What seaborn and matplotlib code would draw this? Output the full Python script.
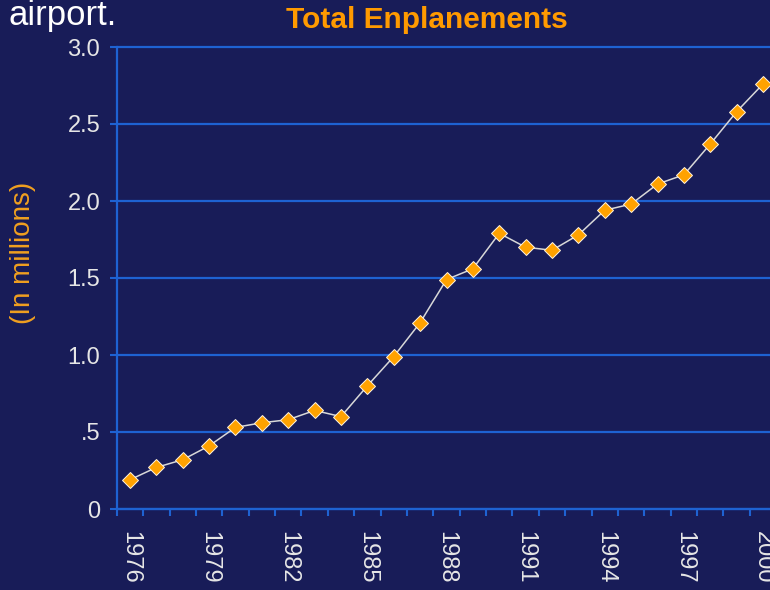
import numpy as np
import pandas as pd
import matplotlib
matplotlib.use("Agg")
import matplotlib.pyplot as plt
import seaborn as sns

# datos (millones de pasajeros embarcados)
anios = list(range(1976, 2001))
embarques = [0.19, 0.27, 0.32, 0.41, 0.53, 0.56, 0.58, 0.64, 0.60, 0.80,
             0.99, 1.21, 1.49, 1.56, 1.79, 1.70, 1.68, 1.78, 1.94, 1.98,
             2.11, 2.17, 2.37, 2.58, 2.76]
y_ticks = [0, 0.5, 1.0, 1.5, 2.0, 2.5, 3.0]
y_labels = ["0", ".5", "1.0", "1.5", "2.0", "2.5", "3.0"]
x_label_years = anios[::3]

fondo = "#181C58"
azul = "#1E62D2"
naranja = "#FF9A00"

sns.set_theme(style="dark", rc={"figure.facecolor": fondo, "axes.facecolor": fondo})
plt.rcParams["font.family"] = ["Liberation Sans", "DejaVu Sans"]

datos = pd.DataFrame({"Anio": anios, "Embarques": embarques})

fig = plt.figure(figsize=(7.7, 5.9), dpi=100)
ax = fig.add_axes([116.8 / 770, 1 - 509 / 590, 659.4 / 770, 462 / 590])

sns.lineplot(data=datos, x="Anio", y="Embarques", ax=ax, color="#D8D8D8",
             linewidth=1.1, marker="D", markersize=8.6,
             markerfacecolor="#FFA200", markeredgecolor="#FFF4E0",
             markeredgewidth=0.7, zorder=3)

ax.set_xlim(1975.5, 2000.5)
ax.set_ylim(0, 3.0)

# ejes
for lado in ["top", "right"]:
    ax.spines[lado].set_visible(False)
for lado in ["left", "bottom"]:
    ax.spines[lado].set_visible(True)
    ax.spines[lado].set_color(azul)
    ax.spines[lado].set_linewidth(1.6)

ax.set_yticks(y_ticks)
ax.set_yticklabels(y_labels)
ax.tick_params(axis="y", colors=azul, length=5, width=1.5, pad=7,
               labelcolor="#E6E6E6", labelsize=17, left=True)
ax.grid(axis="y", color=azul, linewidth=1.6)
ax.grid(axis="x", visible=False)
for linea in ax.get_ygridlines():
    linea.set_clip_on(False)

# marcas en los limites de cada categoria, etiquetas cada 3 anios
ax.set_xticks(np.arange(1975.5, 2001, 1.0))
ax.set_xticklabels([])
ax.tick_params(axis="x", which="major", colors=azul, length=5, width=1.5,
               bottom=True)
ax.set_xticks(x_label_years, [str(a) for a in x_label_years], minor=True)
ax.tick_params(axis="x", which="minor", length=0, pad=16, labelsize=17,
               labelcolor="#E6E6E6", labelrotation=-90)
for t in ax.get_xticklabels(minor=True):
    t.set_va("top")
    t.set_ha("center")

ax.set_xlabel("")
ax.set_ylabel("")

fig.text(23 / 770, 1 - 253 / 590, "(In millions)", rotation=90, color="#F0A020",
         fontsize=20, ha="center", va="center")
fig.text(427 / 770, 1 - 20 / 590, "Total Enplanements", color=naranja,
         fontsize=21.5, fontweight="bold", ha="center", va="center")
fig.text(8 / 770, 1 - 25 / 590, "airport.", color="white", fontsize=25,
         ha="left", va="baseline")

fig.savefig("out.png", dpi=100, facecolor=fondo)
